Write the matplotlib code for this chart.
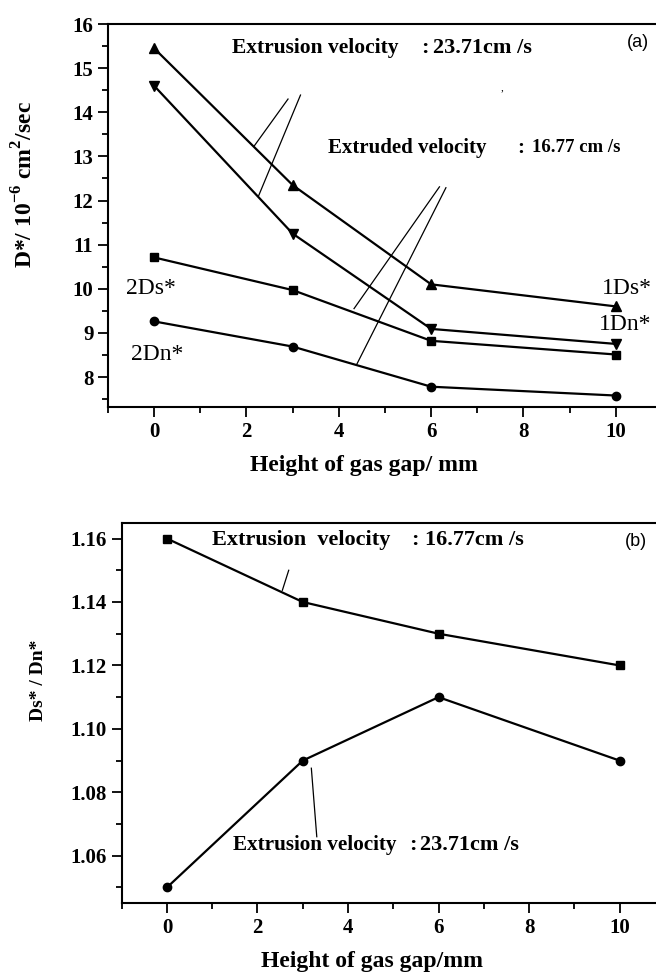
import numpy as np
import matplotlib.pyplot as plt
from matplotlib.ticker import MultipleLocator

# data
gap_mm = [0, 3, 6, 10]

ds1 = [15.45, 12.35, 10.10, 9.60]
dn1 = [14.60, 11.25, 9.09, 8.75]
ds2 = [10.71, 9.97, 8.82, 8.51]
dn2 = [9.26, 8.69, 7.78, 7.58]

ratio_1677 = [1.16, 1.14, 1.13, 1.12]
ratio_2371 = [1.05, 1.09, 1.11, 1.09]

SERIF = "Liberation Serif"
SANS = "Liberation Sans"

plt.rcParams["font.family"] = SERIF
plt.rcParams["axes.linewidth"] = 1.5
plt.rcParams["mathtext.fontset"] = "custom"
plt.rcParams["mathtext.rm"] = SERIF
plt.rcParams["mathtext.bf"] = SERIF + ":bold"

fig = plt.figure(figsize=(6.56, 9.73), dpi=100)


def style_axes(ax):
    ax.spines["right"].set_visible(False)
    ax.tick_params(which="both", direction="out", top=False, right=False,
                   width=1.3, labelsize=15)
    ax.tick_params(which="major", length=7)
    ax.tick_params(which="minor", length=4)
    for lab in ax.get_xticklabels() + ax.get_yticklabels():
        lab.set_fontweight("bold")
        lab.set_family(SERIF)


def label(ax, x, y, s, size=16):
    ax.text(x, y, s, fontsize=size, fontweight="bold", va="center")


# =====================================================
# PANEL (a)
# =====================================================

ax1 = fig.add_axes([0.1646, 0.5817, 0.8445, 0.3936])
ax1.plot(gap_mm, ds1, "k-^", lw=1.6, ms=7)
ax1.plot(gap_mm, dn1, "k-v", lw=1.6, ms=7)
ax1.plot(gap_mm, ds2, "k-s", lw=1.6, ms=5.5)
ax1.plot(gap_mm, dn2, "k-o", lw=1.6, ms=6)

ax1.set_xlim(-1, 11)
ax1.set_ylim(7.32, 16)
ax1.xaxis.set_major_locator(MultipleLocator(2))
ax1.xaxis.set_minor_locator(MultipleLocator(1))
ax1.set_yticks([8, 9, 10, 11, 12, 13, 14, 15, 16])
ax1.yaxis.set_minor_locator(MultipleLocator(0.5))
style_axes(ax1)

ax1.set_xlabel("Height of gas gap/ mm", fontsize=17, fontweight="bold")
ax1.xaxis.set_label_coords(0.462, -0.125)
ax1.set_ylabel(r"D*/ 10$^{\mathbf{-6}}$ cm$^{\mathbf{2}}$/sec", fontsize=17,
               fontweight="bold")
ax1.yaxis.set_label_coords(-0.128, 0.58)

label(ax1, 1.68, 15.45, "Extrusion velocity", 15.5)
label(ax1, 5.79, 15.45, ":")
label(ax1, 6.04, 15.45, "23.71cm /s")

label(ax1, 3.77, 13.2, "Extruded velocity", 15)
label(ax1, 7.86, 13.2, ":", 15)
label(ax1, 8.18, 13.2, "16.77 cm /s", 13.5)

ax1.text(7.5, 14.55, ",", fontsize=8, va="center")
ax1.text(10.48, 15.59, "(a)", family=SANS, fontsize=13, ha="center",
         va="center")

ax1.text(9.7, 10.0, "1Ds*", fontsize=17, va="center")
ax1.text(9.63, 9.2, "1Dn*", fontsize=17, va="center")
ax1.text(-0.6, 10.0, "2Ds*", fontsize=17, va="center")
ax1.text(-0.5, 8.5, "2Dn*", fontsize=17, va="center")

# pointer lines
ax1.plot([2.9, 2.17], [14.3, 13.24], "k-", lw=0.9)
ax1.plot([3.17, 2.26], [14.39, 12.1], "k-", lw=0.9)
ax1.plot([6.18, 4.33], [12.31, 9.55], "k-", lw=0.9)
ax1.plot([6.32, 4.39], [12.29, 8.29], "k-", lw=0.9)

# =====================================================
# PANEL (b)
# =====================================================

ax2 = fig.add_axes([0.1855, 0.0716, 0.828, 0.3912])
ax2.plot(gap_mm, ratio_1677, "k-s", lw=1.6, ms=5.5)
ax2.plot(gap_mm, ratio_2371, "k-o", lw=1.6, ms=6)

ax2.set_xlim(-1, 11)
ax2.set_ylim(1.045, 1.165)
ax2.xaxis.set_major_locator(MultipleLocator(2))
ax2.xaxis.set_minor_locator(MultipleLocator(1))
ax2.set_yticks([1.06, 1.08, 1.10, 1.12, 1.14, 1.16])
ax2.set_yticklabels(["1.06", "1.08", "1.10", "1.12", "1.14", "1.16"])
ax2.yaxis.set_minor_locator(MultipleLocator(0.01))
style_axes(ax2)

ax2.set_xlabel("Height of gas gap/mm", fontsize=17, fontweight="bold")
ax2.xaxis.set_label_coords(0.461, -0.125)
ax2.set_ylabel("Ds* / Dn*", fontsize=14, fontweight="bold")
ax2.yaxis.set_label_coords(-0.137, 0.587)

label(ax2, 1.0, 1.1595, "Extrusion  velocity")
label(ax2, 5.40, 1.1595, ":")
label(ax2, 5.71, 1.1595, "16.77cm /s")

label(ax2, 1.45, 1.0634, "Extrusion velocity", 15.2)
label(ax2, 5.36, 1.0634, ":")
label(ax2, 5.58, 1.0634, "23.71cm /s")

ax2.text(10.36, 1.159, "(b)", family=SANS, fontsize=13, ha="center",
         va="center")

ax2.plot([2.69, 2.55], [1.150, 1.1437], "k-", lw=0.9)
ax2.plot([3.19, 3.31], [1.0876, 1.066], "k-", lw=0.9)

fig.savefig("out.png", dpi=100)
